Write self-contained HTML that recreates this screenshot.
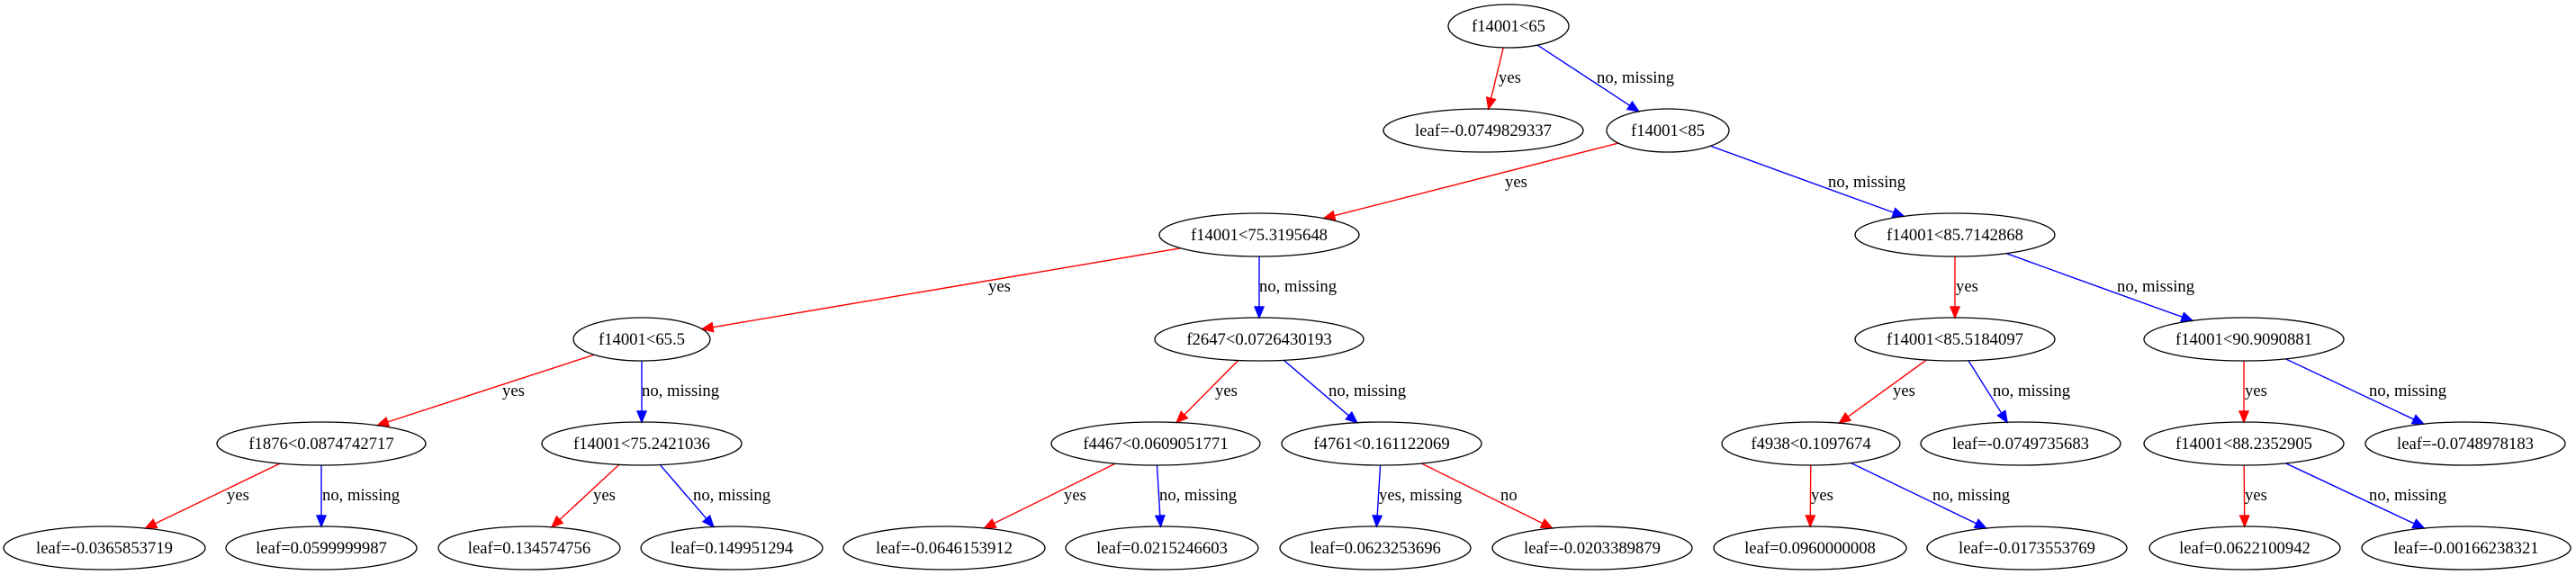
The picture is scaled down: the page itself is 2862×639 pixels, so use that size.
<!DOCTYPE html>
<html><head><meta charset="utf-8">
<style>
html,body{margin:0;padding:0;background:#fff;}
svg{display:block;}
text{font-family:"Liberation Serif","Times New Roman",serif;font-size:18.67px;fill:#000;}
</style></head>
<body>
<svg id="g" width="2862" height="639" viewBox="0 0 2862 639" xmlns="http://www.w3.org/2000/svg">
<g id="edges"></g>
<g id="nodes" fill="none" stroke="#000" stroke-width="1.3"></g>
<g id="labels">
<text x="1676" y="35" text-anchor="middle">f14001&lt;65</text>
<text x="1648" y="151" text-anchor="middle">leaf=-0.0749829337</text>
<text x="1853" y="151" text-anchor="middle">f14001&lt;85</text>
<text x="1399" y="267" text-anchor="middle">f14001&lt;75.3195648</text>
<text x="2172" y="267" text-anchor="middle">f14001&lt;85.7142868</text>
<text x="713" y="383" text-anchor="middle">f14001&lt;65.5</text>
<text x="1399" y="383" text-anchor="middle">f2647&lt;0.0726430193</text>
<text x="2172" y="383" text-anchor="middle">f14001&lt;85.5184097</text>
<text x="2493" y="383" text-anchor="middle">f14001&lt;90.9090881</text>
<text x="357" y="499" text-anchor="middle">f1876&lt;0.0874742717</text>
<text x="713" y="499" text-anchor="middle">f14001&lt;75.2421036</text>
<text x="1284" y="499" text-anchor="middle">f4467&lt;0.0609051771</text>
<text x="1535" y="499" text-anchor="middle">f4761&lt;0.161122069</text>
<text x="2012" y="499" text-anchor="middle">f4938&lt;0.1097674</text>
<text x="2245" y="499" text-anchor="middle">leaf=-0.0749735683</text>
<text x="2493" y="499" text-anchor="middle">f14001&lt;88.2352905</text>
<text x="2739" y="499" text-anchor="middle">leaf=-0.0748978183</text>
<text x="116" y="615" text-anchor="middle">leaf=-0.0365853719</text>
<text x="357" y="615" text-anchor="middle">leaf=0.0599999987</text>
<text x="588" y="615" text-anchor="middle">leaf=0.134574756</text>
<text x="813" y="615" text-anchor="middle">leaf=0.149951294</text>
<text x="1049" y="615" text-anchor="middle">leaf=-0.0646153912</text>
<text x="1291" y="615" text-anchor="middle">leaf=0.0215246603</text>
<text x="1528" y="615" text-anchor="middle">leaf=0.0623253696</text>
<text x="1769" y="615" text-anchor="middle">leaf=-0.0203389879</text>
<text x="2011" y="615" text-anchor="middle">leaf=0.0960000008</text>
<text x="2252" y="615" text-anchor="middle">leaf=-0.0173553769</text>
<text x="2494" y="615" text-anchor="middle">leaf=0.0622100942</text>
<text x="2740" y="615" text-anchor="middle">leaf=-0.00166238321</text>
<!-- edge labels -->
<text x="1665" y="92">yes</text>
<text x="1774" y="92">no, missing</text>
<text x="1672" y="208">yes</text>
<text x="2031" y="208">no, missing</text>
<text x="1098" y="324">yes</text>
<text x="1399" y="324">no, missing</text>
<text x="2173" y="324">yes</text>
<text x="2352" y="324">no, missing</text>
<text x="558" y="440">yes</text>
<text x="713" y="440">no, missing</text>
<text x="1350" y="440">yes</text>
<text x="1476" y="440">no, missing</text>
<text x="2103" y="440">yes</text>
<text x="2214" y="440">no, missing</text>
<text x="2494" y="440">yes</text>
<text x="2632" y="440">no, missing</text>
<text x="252" y="556">yes</text>
<text x="358" y="556">no, missing</text>
<text x="659" y="556">yes</text>
<text x="770" y="556">no, missing</text>
<text x="1182" y="556">yes</text>
<text x="1288" y="556">no, missing</text>
<text x="1532" y="556">yes, missing</text>
<text x="1667" y="556">no</text>
<text x="2012" y="556">yes</text>
<text x="2147" y="556">no, missing</text>
<text x="2494" y="556">yes</text>
<text x="2632" y="556">no, missing</text>
</g>
</svg>
<script>
(function(){
var N={
A:[1676,29,67],B:[1648,145,111],C:[1853,145,68],D:[1399,261,111],E:[2172,261,111],
F:[713,377,76],G:[1399,377,116],H:[2172,377,111],I:[2493,377,111],
J:[357,493,116],K:[713,493,111],L:[1284,493,116],M:[1535,493,111],N:[2012,493,99],O:[2245,493,111],P:[2493,493,111],Q:[2739,493,111],
R:[116,609,112],S:[357,609,106],T:[588,609,101],U:[813,609,101],V:[1049,609,112],W:[1291,609,107],X:[1528,609,106],Y:[1769,609,111],Z:[2011,609,107],a:[2252,609,111],b:[2494,609,106],c:[2740,609,116]};
var RY=24;
var E=[["A","B","r"],["A","C","b"],["C","D","r"],["C","E","b"],["D","F","r"],["D","G","b"],["E","H","r"],["E","I","b"],
["F","J","r"],["F","K","b"],["G","L","r"],["G","M","b"],["H","N","r"],["H","O","b"],["I","P","r"],["I","Q","b"],
["J","R","r"],["J","S","b"],["K","T","r"],["K","U","b"],["L","V","r"],["L","W","b"],["M","X","b"],["M","Y","r"],
["N","Z","r"],["N","a","b"],["P","b","r"],["P","c","b"]];
var ns="http://www.w3.org/2000/svg";
var ng=document.getElementById("nodes"),eg=document.getElementById("edges");
for(var k in N){var n=N[k];var e=document.createElementNS(ns,"ellipse");
e.setAttribute("cx",n[0]);e.setAttribute("cy",n[1]);e.setAttribute("rx",n[2]);e.setAttribute("ry",RY);ng.appendChild(e);}
function clip(n,dx,dy){var t=1/Math.sqrt(Math.pow(dx/n[2],2)+Math.pow(dy/RY,2));return [n[0]+dx*t,n[1]+dy*t];}
E.forEach(function(ed){
var p=N[ed[0]],c=N[ed[1]],col=ed[2]=="r"?"#ff0000":"#0000ff";
var dx=c[0]-p[0],dy=c[1]-p[1];
var s=clip(p,dx,dy),t=clip(c,-dx,-dy);
var L=Math.hypot(t[0]-s[0],t[1]-s[1]),ux=(t[0]-s[0])/L,uy=(t[1]-s[1])/L;
var AL=12,AW=5;
var bx=t[0]-ux*AL,by=t[1]-uy*AL;
var l=document.createElementNS(ns,"line");
l.setAttribute("x1",s[0]);l.setAttribute("y1",s[1]);l.setAttribute("x2",bx);l.setAttribute("y2",by);
l.setAttribute("stroke",col);l.setAttribute("stroke-width","1.4");eg.appendChild(l);
var pg=document.createElementNS(ns,"polygon");
pg.setAttribute("points",t[0]+","+t[1]+" "+(bx-uy*AW)+","+(by+ux*AW)+" "+(bx+uy*AW)+","+(by-ux*AW));
pg.setAttribute("fill",col);pg.setAttribute("stroke",col);pg.setAttribute("stroke-width","1.4");eg.appendChild(pg);
});
})();
</script>
</body></html>
